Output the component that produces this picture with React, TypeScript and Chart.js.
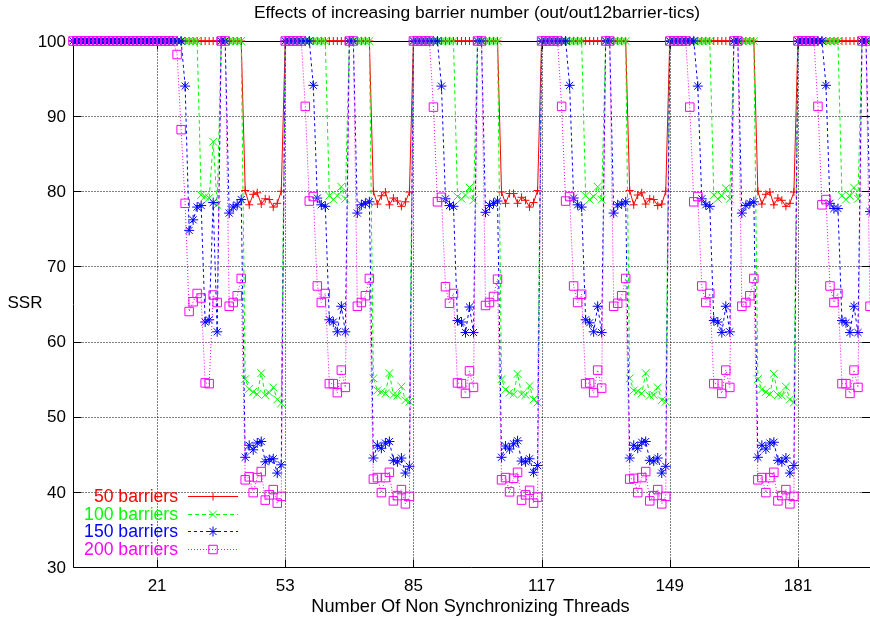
import React, { useEffect, useRef } from "react";
import { Chart, registerables } from "chart.js";

Chart.register(...registerables);

// ---- text ----
const TITLE = "Effects of increasing barrier number (out/out12barrier-tics)";
const X_TITLE = "Number Of Non Synchronizing Threads";
const Y_TITLE = "SSR";

// ---- axes ----
const FIRST_THREAD = 0;
const X_MIN = 0;
const X_MAX = 199;
const Y_MIN = 30;
const Y_MAX = 100;
const xTicks = [21, 53, 85, 117, 149, 181];
const yTicks = [30, 40, 50, 60, 70, 80, 90, 100];

const seriesLabels = ["50 barriers", "100 barriers", "150 barriers", "200 barriers"];

// ---- SSR per thread count (threads 0..199) ----
const barriers50 = [
  100, 100, 100, 100, 100, 100, 100, 100, 100, 100, 100, 100, 100, 100, 100, 100, 100, 100, 100, 100, 100,
  // 21-52
  100, 100, 100, 100, 100, 100, 100, 100, 100, 100, 100, 100, 100, 100, 100, 100, 100, 100, 100, 100, 100, 100,
  80.1, 78.2, 79.6, 79.8, 78.3, 79.0, 78.9, 77.9, 78.4, 80.0,
  // 53-84
  100, 100, 100, 100, 100, 100, 100, 100, 100, 100, 100, 100, 100, 100, 100, 100, 100, 100, 100, 100, 100, 100,
  80.0, 78.3, 79.4, 79.9, 78.2, 79.1, 78.7, 78.0, 78.6, 79.9,
  // 85-116
  100, 100, 100, 100, 100, 100, 100, 100, 100, 100, 100, 100, 100, 100, 100, 100, 100, 100, 100, 100, 100, 100,
  79.9, 78.4, 79.7, 79.7, 78.4, 79.2, 78.8, 77.9, 78.5, 80.1,
  // 117-148
  100, 100, 100, 100, 100, 100, 100, 100, 100, 100, 100, 100, 100, 100, 100, 100, 100, 100, 100, 100, 100, 100,
  80.1, 78.2, 79.5, 79.8, 78.3, 79.0, 78.9, 78.1, 78.3, 80.0,
  // 149-180
  100, 100, 100, 100, 100, 100, 100, 100, 100, 100, 100, 100, 100, 100, 100, 100, 100, 100, 100, 100, 100, 100,
  80.0, 78.3, 79.6, 79.9, 78.2, 79.1, 78.8, 78.0, 78.4, 79.9,
  // 181-199
  100, 100, 100, 100, 100, 100, 100, 100, 100, 100, 100, 100, 100, 100, 100, 100, 100, 100, 100,
];

const barriers100 = [
  100, 100, 100, 100, 100, 100, 100, 100, 100, 100, 100, 100, 100, 100, 100, 100, 100, 100, 100, 100, 100,
  // 21-52
  100, 100, 100, 100, 100, 100, 100, 100, 100, 100, 100,
  79.5, 79.3, 79.1, 86.6, 78.2,
  100, 100, 100, 100, 100, 100,
  55.0, 53.7, 53.3, 53.0, 55.8, 52.9, 53.2, 53.9, 52.3, 51.8,
  // 53-84
  100, 100, 100, 100, 100, 100, 100, 100, 100, 100, 100,
  79.4, 78.9, 79.4, 80.6, 79.0,
  100, 100, 100, 100, 100, 100,
  55.1, 53.5, 53.3, 53.1, 55.8, 52.9, 52.8, 54.0, 52.2, 52.0,
  // 85-116
  100, 100, 100, 100, 100, 100, 100, 100, 100, 100, 100,
  79.3, 79.0, 79.5, 80.5, 78.8,
  100, 100, 100, 100, 100, 100,
  55.0, 53.6, 53.2, 53.0, 55.7, 53.0, 52.9, 54.1, 52.3, 51.9,
  // 117-148
  100, 100, 100, 100, 100, 100, 100, 100, 100, 100, 100,
  79.4, 78.9, 79.3, 80.6, 78.9,
  100, 100, 100, 100, 100, 100,
  55.1, 53.5, 53.4, 53.1, 55.8, 52.8, 52.9, 53.9, 52.2, 52.0,
  // 149-180
  100, 100, 100, 100, 100, 100, 100, 100, 100, 100, 100,
  79.5, 79.0, 79.4, 80.4, 79.0,
  100, 100, 100, 100, 100, 100,
  55.0, 53.6, 53.3, 53.0, 55.7, 52.9, 52.8, 54.0, 52.3, 51.9,
  // 181-199
  100, 100, 100, 100, 100, 100, 100, 100, 100, 100, 100,
  79.4, 78.9, 79.4, 80.5, 79.0,
  100, 100, 100,
];

const barriers150 = [
  100, 100, 100, 100, 100, 100, 100, 100, 100, 100, 100, 100, 100, 100, 100, 100, 100, 100, 100, 100, 100,
  // 21-52
  100, 100, 100, 100, 100, 100, 100,
  94.0, 74.8, 76.2, 77.9,
  78.1, 62.6, 62.9, 78.5, 61.3,
  100, 100,
  77.1, 77.9, 78.2, 78.9,
  44.6, 46.2, 45.6, 46.5, 46.7, 44.0, 44.3, 44.4, 42.5, 43.6,
  // 53-84
  100, 100, 100, 100, 100, 100, 100,
  94.1, 79.1, 78.2, 78.0,
  62.9, 62.6, 61.3, 64.7, 61.3,
  100, 100,
  77.1, 78.2, 78.4, 78.6,
  44.5, 46.2, 45.8, 46.5, 46.7, 44.2, 44.0, 44.5, 42.5, 43.4,
  // 85-116
  100, 100, 100, 100, 100, 100, 100,
  94.0, 79.0, 78.1, 78.0,
  62.8, 62.6, 61.2, 64.6, 61.2,
  100, 100,
  77.2, 78.1, 78.4, 78.7,
  44.6, 46.1, 45.7, 46.4, 46.8, 44.1, 44.0, 44.4, 42.6, 43.5,
  // 117-148
  100, 100, 100, 100, 100, 100, 100,
  94.1, 79.1, 78.2, 77.9,
  62.9, 62.5, 61.3, 64.7, 61.2,
  100, 100,
  77.1, 78.2, 78.3, 78.6,
  44.5, 46.2, 45.8, 46.6, 46.7, 44.2, 44.1, 44.5, 42.5, 43.4,
  // 149-180
  100, 100, 100, 100, 100, 100, 100,
  94.0, 79.0, 78.2, 78.0,
  62.8, 62.6, 61.2, 64.7, 61.3,
  100, 100,
  77.1, 78.1, 78.4, 78.6,
  44.6, 46.2, 45.7, 46.5, 46.6, 44.2, 44.0, 44.5, 42.5, 43.5,
  // 181-199
  100, 100, 100, 100, 100, 100, 100,
  94.1, 78.4, 77.7, 77.7,
  62.8, 62.5, 61.2, 64.7, 61.2,
  100, 100,
  77.3,
];

const barriers200 = [
  100, 100, 100, 100, 100, 100, 100, 100, 100, 100, 100, 100, 100, 100, 100, 100, 100, 100, 100, 100, 100,
  // 21-52
  100, 100, 100, 100, 100,
  98.2, 88.2, 78.4,
  64.0, 65.3, 66.4,
  65.8, 54.5, 54.4, 66.2, 65.2,
  100, 100,
  64.7, 65.2, 66.1, 68.4,
  41.6, 42.0, 39.9, 41.9, 42.7, 38.9, 39.6, 40.3, 38.5, 39.4,
  // 53-84
  100, 100, 100, 100, 100,
  91.3, 78.7, 79.3,
  67.4, 65.2, 66.4,
  54.4, 54.4, 53.2, 56.2, 53.9,
  100, 100,
  64.7, 65.2, 66.1, 68.4,
  41.7, 41.9, 39.9, 41.9, 42.6, 38.8, 39.5, 40.3, 38.4, 39.4,
  // 85-116
  100, 100, 100, 100, 100,
  91.2, 78.6, 79.2,
  67.3, 65.1, 66.4,
  54.5, 54.4, 53.1, 56.1, 53.9,
  100, 100,
  64.8, 65.2, 66.0, 68.3,
  41.6, 41.9, 40.0, 41.8, 42.6, 38.9, 39.6, 40.2, 38.5, 39.3,
  // 117-148
  100, 100, 100, 100, 100,
  91.3, 78.7, 79.3,
  67.4, 65.2, 66.3,
  54.4, 54.5, 53.2, 56.2, 53.8,
  100, 100,
  64.7, 65.1, 66.1, 68.4,
  41.7, 41.8, 39.9, 41.9, 42.7, 38.8, 39.5, 40.3, 38.4, 39.4,
  // 149-180
  100, 100, 100, 100, 100,
  91.2, 78.6, 79.3,
  67.4, 65.2, 66.4,
  54.4, 54.4, 53.1, 56.2, 53.9,
  100, 100,
  64.7, 65.2, 66.1, 68.4,
  41.6, 41.9, 39.9, 41.9, 42.6, 38.8, 39.5, 40.3, 38.4, 39.4,
  // 181-199
  100, 100, 100, 100, 100,
  91.3, 78.2, 78.9,
  67.4, 65.2, 66.4,
  54.4, 54.4, 53.1, 56.2, 53.9,
  100, 100,
  64.7,
];

const seriesValues = [barriers50, barriers100, barriers150, barriers200];

// ---- look ----
const FAMILY = '"Liberation Sans", Arial, sans-serif';
const TICK_FONT = `17px ${FAMILY}`;
const TITLE_FONT = `17.4px ${FAMILY}`;
const XTITLE_FONT = `18.2px ${FAMILY}`;
const KEY_FONT = `17.6px ${FAMILY}`;
const COLORS = ["#ff0000", "#00ff00", "#0000ff", "#ff00ff"];
const DASHES: number[][] = [[], [4, 3], [3, 3], [1, 2]];
const POINT_STYLES = ["cross", "crossRot", "star", "rect"] as const;
const POINT_RADII = [4, 5.5, 5, 6];

function drawMarker(ctx: CanvasRenderingContext2D, style: string, x: number, y: number, r: number) {
  const d = r * Math.SQRT1_2;
  ctx.beginPath();
  if (style === "cross" || style === "star") {
    ctx.moveTo(x - r, y); ctx.lineTo(x + r, y);
    ctx.moveTo(x, y - r); ctx.lineTo(x, y + r);
  }
  if (style === "crossRot" || style === "star") {
    ctx.moveTo(x - d, y - d); ctx.lineTo(x + d, y + d);
    ctx.moveTo(x + d, y - d); ctx.lineTo(x - d, y + d);
  }
  if (style === "rect") {
    ctx.rect(x - d, y - d, 2 * d, 2 * d);
  }
  ctx.stroke();
}

const framePlugin = {
  id: "gnuplotFrame",
  beforeDraw(chart: any) {
    const { ctx, width, height } = chart;
    ctx.save();
    ctx.fillStyle = "#ffffff";
    ctx.fillRect(0, 0, width, height);
    ctx.restore();
  },
  beforeDatasetsDraw(chart: any) {
    const { ctx, chartArea: a, scales } = chart;
    const xs = scales.x;
    const ys = scales.y;
    const L = Math.round(a.left) + 0.5;
    const R = Math.round(a.right) - 0.5;
    const T = Math.round(a.top) + 0.5;
    const B = Math.round(a.bottom) + 0.5;
    ctx.save();
    ctx.strokeStyle = "#000";
    ctx.lineWidth = 1;
    // dotted grid
    ctx.setLineDash([1, 2]);
    ctx.beginPath();
    for (const v of yTicks) {
      if (v === Y_MIN || v === Y_MAX) continue;
      const py = Math.round(ys.getPixelForValue(v)) + 0.5;
      ctx.moveTo(L, py);
      ctx.lineTo(a.right, py);
    }
    for (const v of xTicks) {
      const px = Math.round(xs.getPixelForValue(v)) + 0.5;
      ctx.moveTo(px, T);
      ctx.lineTo(px, B);
    }
    ctx.stroke();
    ctx.setLineDash([]);
    // border
    ctx.beginPath();
    ctx.moveTo(a.right, T);
    ctx.lineTo(L, T);
    ctx.lineTo(L, B);
    ctx.lineTo(a.right, B);
    ctx.stroke();
    // tick marks (inward, mirrored)
    ctx.beginPath();
    for (const v of yTicks) {
      const py = Math.round(ys.getPixelForValue(v)) + 0.5;
      ctx.moveTo(L, py); ctx.lineTo(L + 8, py);
      ctx.moveTo(R - 8, py); ctx.lineTo(a.right, py);
    }
    for (const v of xTicks) {
      const px = Math.round(xs.getPixelForValue(v)) + 0.5;
      ctx.moveTo(px, B); ctx.lineTo(px, B - 8);
      ctx.moveTo(px, T); ctx.lineTo(px, T + 8);
    }
    ctx.stroke();
    ctx.restore();
  },
  afterDraw(chart: any) {
    const { ctx, chartArea: a, scales } = chart;
    const xs = scales.x;
    const ys = scales.y;
    ctx.save();
    ctx.font = TICK_FONT;
    ctx.fillStyle = "#000";
    // y tick labels
    ctx.textAlign = "right";
    ctx.textBaseline = "middle";
    for (const v of yTicks) {
      ctx.fillText(String(v), a.left - 7, ys.getPixelForValue(v) + 1);
    }
    // x tick labels
    ctx.textAlign = "center";
    for (const v of xTicks) {
      ctx.fillText(String(v), xs.getPixelForValue(v), a.bottom + 19);
    }
    ctx.fillText(Y_TITLE, 25, 303);
    // titles
    ctx.font = TITLE_FONT;
    ctx.fillText(TITLE, 477, 13);
    ctx.font = XTITLE_FONT;
    ctx.fillText(X_TITLE, 470.5, 607);
    // key
    ctx.font = KEY_FONT;
    const keyRows = [496, 513.7, 531.3, 549];
    seriesLabels.forEach((label, i) => {
      const y = keyRows[i];
      ctx.fillStyle = COLORS[i];
      ctx.strokeStyle = COLORS[i];
      ctx.lineWidth = 1;
      ctx.textAlign = "right";
      ctx.fillText(label, 178, y + 1);
      ctx.setLineDash(DASHES[i]);
      ctx.beginPath();
      ctx.moveTo(188, Math.round(y) + 0.5);
      ctx.lineTo(238, Math.round(y) + 0.5);
      ctx.stroke();
      ctx.setLineDash([]);
      drawMarker(ctx, POINT_STYLES[i], 213, Math.round(y) + 0.5, POINT_RADII[i]);
    });
    ctx.restore();
  },
};

export default function App() {
  const canvasRef = useRef<HTMLCanvasElement>(null);

  useEffect(() => {
    const canvas = canvasRef.current;
    if (!canvas) return;
    const chart = new Chart(canvas, {
      type: "line",
      data: {
        datasets: seriesValues.map((values, i) => ({
          label: seriesLabels[i],
          data: values.map((v, j) => ({ x: FIRST_THREAD + j, y: v })),
          borderColor: COLORS[i],
          backgroundColor: "rgba(0,0,0,0)",
          borderWidth: 1,
          borderDash: DASHES[i],
          pointStyle: POINT_STYLES[i],
          pointRadius: POINT_RADII[i],
          pointBorderWidth: 1,
          pointBorderColor: COLORS[i],
          pointBackgroundColor: "rgba(0,0,0,0)",
          tension: 0,
          fill: false,
          clip: false as any,
          order: seriesValues.length - i,
        })),
      },
      options: {
        animation: false,
        responsive: false,
        devicePixelRatio: 1,
        events: [],
        layout: { autoPadding: false, padding: { left: 73, right: 0, top: 41, bottom: 56 } },
        scales: {
          x: { type: "linear", min: X_MIN, max: X_MAX, display: false },
          y: { type: "linear", min: Y_MIN, max: Y_MAX, display: false },
        },
        plugins: {
          legend: { display: false },
          tooltip: { enabled: false },
          title: { display: false },
        },
      },
      plugins: [framePlugin],
    });
    return () => chart.destroy();
  }, []);

  return (
    <div style={{ position: "fixed", left: 0, top: 0, width: 870, height: 623, background: "#fff" }}>
      <canvas ref={canvasRef} width={870} height={623} style={{ display: "block" }} />
    </div>
  );
}
